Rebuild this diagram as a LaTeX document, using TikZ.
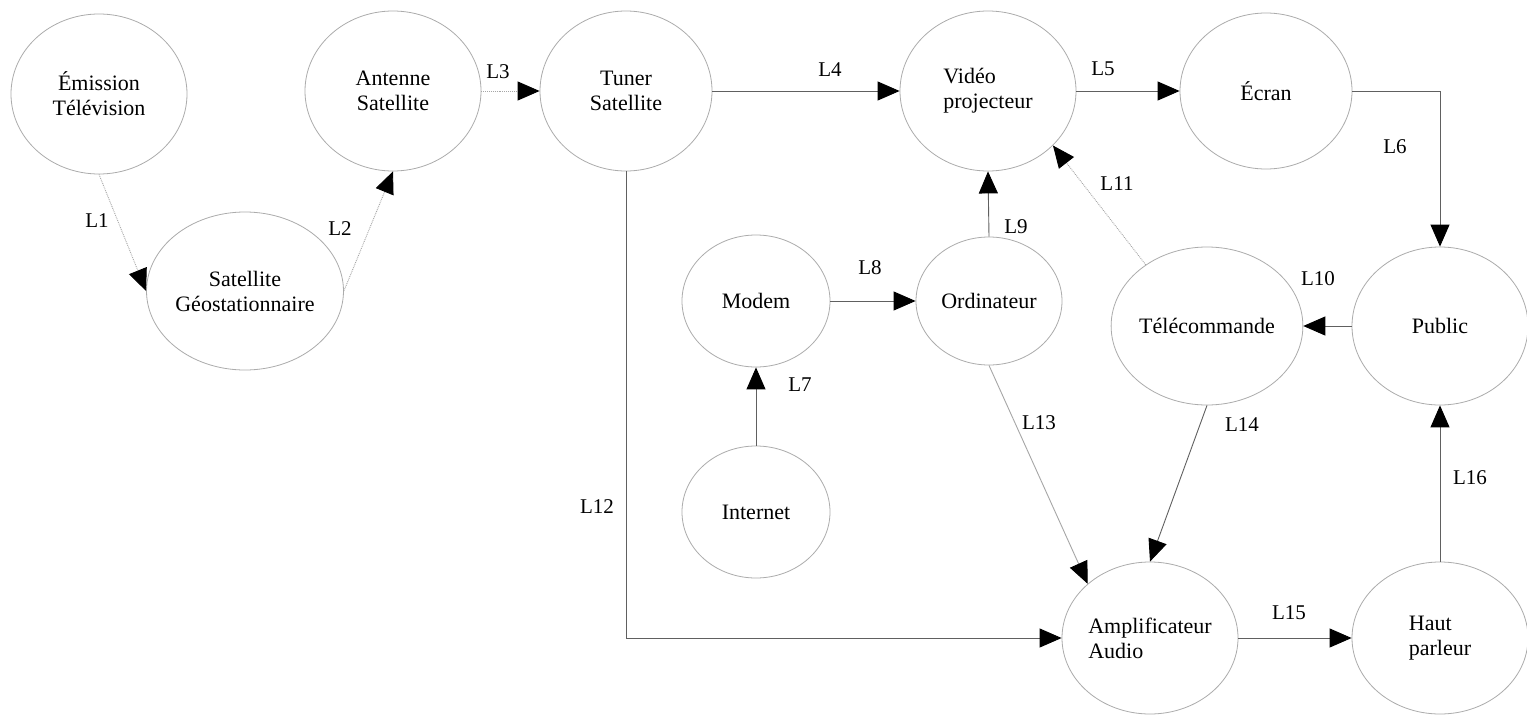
\documentclass[tikz,border=0pt]{standalone}
\usepackage{fontspec}
\setmainfont{Liberation Serif}
\usetikzlibrary{shapes.geometric,arrows.meta}
\begin{document}
\begin{tikzpicture}[x=1pt,y=-1pt,
  ent/.style={ellipse,draw=gray!65,line width=0.8pt,inner sep=0pt,align=center,
    font=\fontsize{22}{25}\selectfont},
  ln/.style={draw=gray!75!black,line width=0.9pt,-{Triangle[length=22pt,width=19pt,color=black,fill=black]}},
  dln/.style={ln,draw=gray!70,densely dotted},
  lab/.style={font=\fontsize{21}{24}\selectfont,inner sep=0pt}]
\useasboundingbox (0,0) rectangle (1527,715);
\fill[white] (0,0) rectangle (1527,715);
% entities
\node[ent,minimum width=176pt,minimum height=160pt] (emi) at (99,94) {Émission\\Télévision};
\node[ent,minimum width=176pt,minimum height=160pt] (ant) at (393,91) {Antenne\\Satellite};
\node[ent,minimum width=176pt,minimum height=158pt] (geo) at (245,291) {Satellite\\Géostationnaire};
\node[ent,minimum width=172pt,minimum height=160pt] (tun) at (626,91) {Tuner\\Satellite};
\node[ent,minimum width=176pt,minimum height=160pt,align=left] (vid) at (988,91) {Vidéo\\projecteur};
\node[ent,minimum width=172pt,minimum height=156pt] (ecr) at (1266,91) {Écran};
\node[ent,minimum width=176pt,minimum height=158pt] (pub) at (1440,326) {Public};
\node[ent,minimum width=172pt,minimum height=158pt] (tel) at (1207,326) {Télécommande};
\node[ent,minimum width=146pt,minimum height=128pt] (ord) at (989,301) {Ordinateur};
\node[ent,minimum width=148pt,minimum height=132pt] (mod) at (756,301) {Modem};
\node[ent,minimum width=148pt,minimum height=132pt] (int) at (756,512) {Internet};
\node[ent,minimum width=176pt,minimum height=152pt,align=left] (amp) at (1150,638) {Amplificateur\\Audio};
\node[ent,minimum width=176pt,minimum height=152pt,align=left] (hau) at (1440,638) {Haut\\parleur};
% connectors
\draw[dln] (emi.south) -- (geo.west);
\draw[dln] (geo.east) -- (ant.south);
\draw[dln] (ant.east) -- (tun.west);
\draw[ln] (tun.east) -- (vid.west);
\draw[ln] (vid.east) -- (ecr.west);
\draw[ln] (ecr.east) -| (pub.north);
\draw[ln] (int.north) -- (mod.south);
\draw[ln] (mod.east) -- (ord.west);
\draw[ln] (ord.north) -- (vid.south);
\draw[ln] (pub.west) -- (tel.east);
\draw[dln] (tel.135) -- (vid.-40);
\draw[ln] (tun.south) |- (amp.west);
\draw[ln,draw=gray!70] (ord.south) -- (amp.139);
\draw[ln] (tel.south) -- (amp.north);
\draw[ln] (amp.east) -- (hau.west);
\draw[ln] (hau.north) -- (pub.south);
% labels
\node[lab] (l1) at (97,221) {L1};
\node[lab] (l2) at (340,229) {L2};
\node[lab] (l3) at (498,72) {L3};
\node[lab] (l4) at (830,70) {L4};
\node[lab] (l5) at (1103,69) {L5};
\node[lab] (l6) at (1395,147) {L6};
\node[lab] (l7) at (800,385) {L7};
\node[lab] (l8) at (870,268) {L8};
\node[lab] (l9) at (1016,227) {L9};
\node[lab] (l10) at (1318,279) {L10};
\node[lab] (l11) at (1117,184) {L11};
\node[lab] (l12) at (597,507) {L12};
\node[lab] (l13) at (1039,423) {L13};
\node[lab] (l14) at (1242,425) {L14};
\node[lab] (l15) at (1289,613) {L15};
\node[lab] (l16) at (1470,478) {L16};
\end{tikzpicture}
\end{document}
